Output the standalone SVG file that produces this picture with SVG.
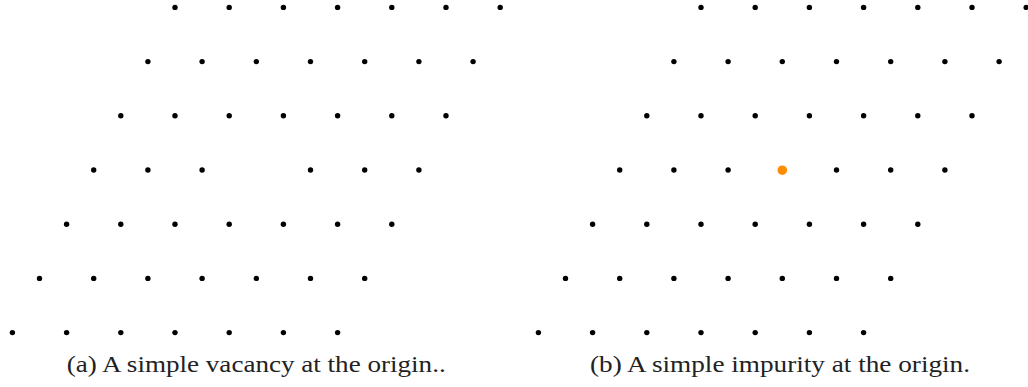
<svg xmlns="http://www.w3.org/2000/svg" width="1028" height="387" viewBox="0 0 1028 387">
<style>
.d{fill:#000}
.imp{fill:#FF8C00}
.cap{font-family:"Liberation Serif","DejaVu Serif",serif;font-size:23px;fill:#222}
</style>
<rect width="1028" height="387" fill="#fff"/>
<g id="panel-a">
<g id="lattice-a">
<circle class="d" cx="175" cy="7.4" r="2.7"/><circle class="d" cx="229.2" cy="7.4" r="2.7"/><circle class="d" cx="283.4" cy="7.4" r="2.7"/><circle class="d" cx="337.6" cy="7.4" r="2.7"/><circle class="d" cx="391.8" cy="7.4" r="2.7"/><circle class="d" cx="446" cy="7.4" r="2.7"/><circle class="d" cx="500.2" cy="7.4" r="2.7"/>
<circle class="d" cx="147.9" cy="61.6" r="2.7"/><circle class="d" cx="202.1" cy="61.6" r="2.7"/><circle class="d" cx="256.3" cy="61.6" r="2.7"/><circle class="d" cx="310.5" cy="61.6" r="2.7"/><circle class="d" cx="364.7" cy="61.6" r="2.7"/><circle class="d" cx="418.9" cy="61.6" r="2.7"/><circle class="d" cx="473.1" cy="61.6" r="2.7"/>
<circle class="d" cx="120.8" cy="115.8" r="2.7"/><circle class="d" cx="175" cy="115.8" r="2.7"/><circle class="d" cx="229.2" cy="115.8" r="2.7"/><circle class="d" cx="283.4" cy="115.8" r="2.7"/><circle class="d" cx="337.6" cy="115.8" r="2.7"/><circle class="d" cx="391.8" cy="115.8" r="2.7"/><circle class="d" cx="446" cy="115.8" r="2.7"/>
<circle class="d" cx="93.7" cy="170" r="2.7"/><circle class="d" cx="147.9" cy="170" r="2.7"/><circle class="d" cx="202.1" cy="170" r="2.7"/><circle class="d" cx="310.5" cy="170" r="2.7"/><circle class="d" cx="364.7" cy="170" r="2.7"/><circle class="d" cx="418.9" cy="170" r="2.7"/>
<circle class="d" cx="66.6" cy="224.2" r="2.7"/><circle class="d" cx="120.8" cy="224.2" r="2.7"/><circle class="d" cx="175" cy="224.2" r="2.7"/><circle class="d" cx="229.2" cy="224.2" r="2.7"/><circle class="d" cx="283.4" cy="224.2" r="2.7"/><circle class="d" cx="337.6" cy="224.2" r="2.7"/><circle class="d" cx="391.8" cy="224.2" r="2.7"/>
<circle class="d" cx="39.5" cy="278.4" r="2.7"/><circle class="d" cx="93.7" cy="278.4" r="2.7"/><circle class="d" cx="147.9" cy="278.4" r="2.7"/><circle class="d" cx="202.1" cy="278.4" r="2.7"/><circle class="d" cx="256.3" cy="278.4" r="2.7"/><circle class="d" cx="310.5" cy="278.4" r="2.7"/><circle class="d" cx="364.7" cy="278.4" r="2.7"/>
<circle class="d" cx="12.4" cy="332.6" r="2.7"/><circle class="d" cx="66.6" cy="332.6" r="2.7"/><circle class="d" cx="120.8" cy="332.6" r="2.7"/><circle class="d" cx="175" cy="332.6" r="2.7"/><circle class="d" cx="229.2" cy="332.6" r="2.7"/><circle class="d" cx="283.4" cy="332.6" r="2.7"/><circle class="d" cx="337.6" cy="332.6" r="2.7"/>
</g>
<text id="caption-a" class="cap" x="66.7" y="372" textLength="379" lengthAdjust="spacingAndGlyphs">(a) A simple vacancy at the origin..</text>
</g>
<g id="panel-b">
<g id="lattice-b">
<circle class="d" cx="701" cy="7.4" r="2.7"/><circle class="d" cx="755.2" cy="7.4" r="2.7"/><circle class="d" cx="809.4" cy="7.4" r="2.7"/><circle class="d" cx="863.6" cy="7.4" r="2.7"/><circle class="d" cx="917.8" cy="7.4" r="2.7"/><circle class="d" cx="972" cy="7.4" r="2.7"/><circle class="d" cx="1026.2" cy="7.4" r="2.7"/>
<circle class="d" cx="673.9" cy="61.6" r="2.7"/><circle class="d" cx="728.1" cy="61.6" r="2.7"/><circle class="d" cx="782.3" cy="61.6" r="2.7"/><circle class="d" cx="836.5" cy="61.6" r="2.7"/><circle class="d" cx="890.7" cy="61.6" r="2.7"/><circle class="d" cx="944.9" cy="61.6" r="2.7"/><circle class="d" cx="999.1" cy="61.6" r="2.7"/>
<circle class="d" cx="646.8" cy="115.8" r="2.7"/><circle class="d" cx="701" cy="115.8" r="2.7"/><circle class="d" cx="755.2" cy="115.8" r="2.7"/><circle class="d" cx="809.4" cy="115.8" r="2.7"/><circle class="d" cx="863.6" cy="115.8" r="2.7"/><circle class="d" cx="917.8" cy="115.8" r="2.7"/><circle class="d" cx="972" cy="115.8" r="2.7"/>
<circle class="d" cx="619.7" cy="170" r="2.7"/><circle class="d" cx="673.9" cy="170" r="2.7"/><circle class="d" cx="728.1" cy="170" r="2.7"/><circle class="d" cx="836.5" cy="170" r="2.7"/><circle class="d" cx="890.7" cy="170" r="2.7"/><circle class="d" cx="944.9" cy="170" r="2.7"/>
<circle class="d" cx="592.6" cy="224.2" r="2.7"/><circle class="d" cx="646.8" cy="224.2" r="2.7"/><circle class="d" cx="701" cy="224.2" r="2.7"/><circle class="d" cx="755.2" cy="224.2" r="2.7"/><circle class="d" cx="809.4" cy="224.2" r="2.7"/><circle class="d" cx="863.6" cy="224.2" r="2.7"/><circle class="d" cx="917.8" cy="224.2" r="2.7"/>
<circle class="d" cx="565.5" cy="278.4" r="2.7"/><circle class="d" cx="619.7" cy="278.4" r="2.7"/><circle class="d" cx="673.9" cy="278.4" r="2.7"/><circle class="d" cx="728.1" cy="278.4" r="2.7"/><circle class="d" cx="782.3" cy="278.4" r="2.7"/><circle class="d" cx="836.5" cy="278.4" r="2.7"/><circle class="d" cx="890.7" cy="278.4" r="2.7"/>
<circle class="d" cx="538.4" cy="332.6" r="2.7"/><circle class="d" cx="592.6" cy="332.6" r="2.7"/><circle class="d" cx="646.8" cy="332.6" r="2.7"/><circle class="d" cx="701" cy="332.6" r="2.7"/><circle class="d" cx="755.2" cy="332.6" r="2.7"/><circle class="d" cx="809.4" cy="332.6" r="2.7"/><circle class="d" cx="863.6" cy="332.6" r="2.7"/>
</g>
<circle id="impurity" class="imp" cx="782.3" cy="170.2" r="4.8"/>
<text id="caption-b" class="cap" x="590" y="372" textLength="380" lengthAdjust="spacingAndGlyphs">(b) A simple impurity at the origin.</text>
</g>
</svg>
